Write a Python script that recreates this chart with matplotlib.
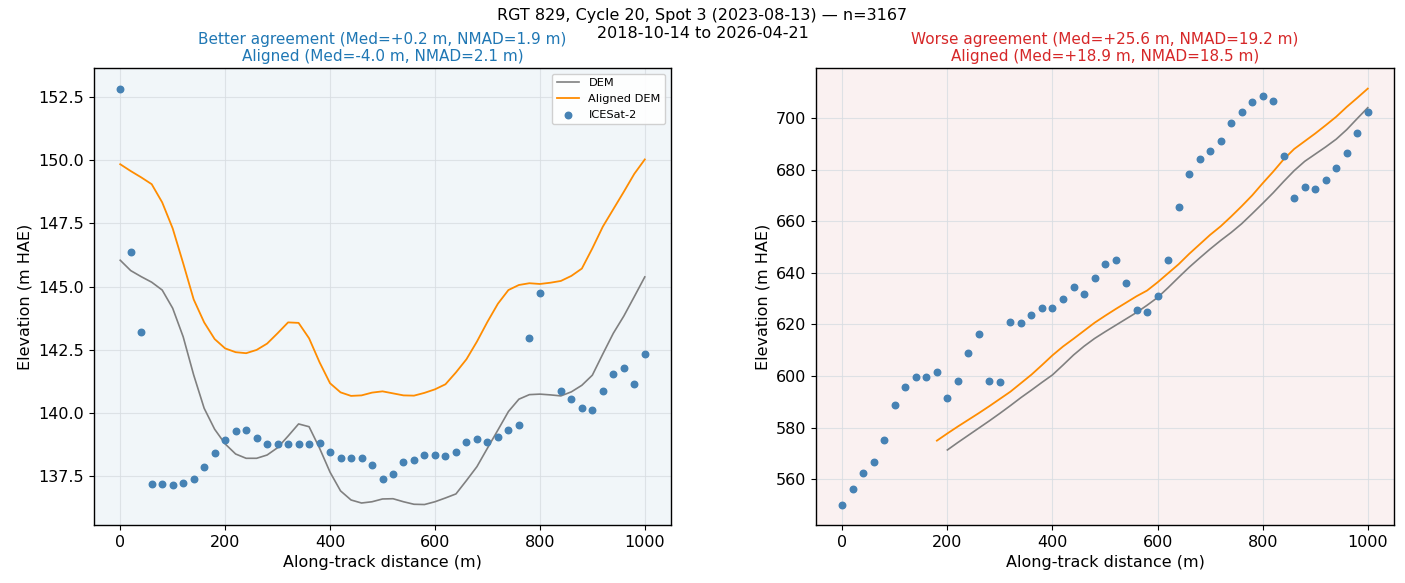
import matplotlib
matplotlib.use("Agg")
import matplotlib.pyplot as plt
import numpy as np

# left panel: better agreement
left_ice_x = [0, 20, 40, 60, 80, 100, 120, 140, 160, 180, 200, 220, 240, 260, 280, 300,
              320, 340, 360, 380, 400, 420, 440, 460, 480, 500, 520, 540, 560, 580, 600,
              620, 640, 660, 680, 700, 720, 740, 760, 780, 800, 840, 860, 880, 900, 920,
              940, 960, 980, 1000]
left_ice_y = [152.83, 146.38, 143.21, 137.19, 137.17, 137.15, 137.22, 137.40, 137.86, 138.39,
              138.94, 139.27, 139.31, 139.01, 138.77, 138.77, 138.77, 138.75, 138.78, 138.80,
              138.46, 138.20, 138.20, 138.20, 137.92, 137.38, 137.58, 138.07, 138.15, 138.32,
              138.33, 138.30, 138.46, 138.83, 138.97, 138.85, 139.03, 139.31, 139.50, 142.98,
              144.76, 140.85, 140.56, 140.18, 140.11, 140.85, 141.53, 141.79, 141.15, 142.32]

left_dem_x = list(range(0, 1001, 20))
left_dem_y = [146.04, 145.63, 145.39, 145.17, 144.86, 144.14, 143.01, 141.50, 140.18, 139.35,
              138.77, 138.37, 138.20, 138.20, 138.33, 138.62, 139.08, 139.56, 139.45, 138.60,
              137.65, 136.91, 136.55, 136.43, 136.48, 136.59, 136.60, 136.48, 136.38, 136.37,
              136.48, 136.63, 136.79, 137.32, 137.87, 138.60, 139.32, 140.05, 140.54, 140.72,
              140.74, 140.71, 140.67, 140.83, 141.09, 141.49, 142.33, 143.15, 143.83, 144.60,
              145.38]
left_aligned_y = [149.84, 149.57, 149.32, 149.05, 148.33, 147.30, 145.92, 144.49, 143.58, 142.92,
                  142.55, 142.40, 142.36, 142.49, 142.74, 143.15, 143.58, 143.56, 142.95, 142.00,
                  141.17, 140.81, 140.67, 140.69, 140.80, 140.85, 140.77, 140.69, 140.68, 140.79,
                  140.93, 141.13, 141.60, 142.12, 142.82, 143.60, 144.32, 144.86, 145.06, 145.13,
                  145.10, 145.15, 145.22, 145.42, 145.71, 146.51, 147.37, 148.06, 148.75, 149.46,
                  150.03]

# right panel: worse agreement
right_ice_x = list(range(0, 1001, 20))
right_ice_y = [549.9, 556.1, 562.2, 566.5, 575.3, 588.8, 595.8, 599.7, 599.7, 601.5,
               591.4, 597.9, 608.8, 616.3, 597.9, 597.7, 621.0, 620.4, 623.5, 626.2,
               626.3, 629.7, 634.5, 631.6, 637.8, 643.3, 645.1, 636.0, 625.4, 624.7,
               630.9, 645.1, 665.5, 678.4, 684.2, 687.2, 691.0, 697.9, 702.5, 706.2,
               708.4, 706.5, 685.1, 669.1, 673.1, 672.5, 675.8, 680.6, 686.6, 694.2,
               702.2]

right_dem_x = list(range(200, 1001, 20))
right_dem_y = [571.3, 574.2, 577.0, 579.8, 582.6, 585.5, 588.5, 591.6, 594.5, 597.5,
               600.4, 604.2, 608.1, 611.5, 614.5, 617.1, 619.6, 622.1, 624.6, 627.4,
               630.4, 634.2, 638.2, 642.1, 645.7, 649.2, 652.5, 655.6, 659.0, 662.9,
               666.9, 671.0, 675.4, 679.6, 683.2, 686.0, 688.8, 691.8, 695.5, 699.8,
               704.0]
right_aligned_x = list(range(180, 1001, 20))
right_aligned_y = [574.9, 577.7, 580.4, 583.0, 585.6, 588.3, 591.1, 593.9, 597.2, 600.5,
                   604.2, 608.0, 611.4, 614.4, 617.5, 620.6, 623.3, 625.9, 628.4, 630.9,
                   633.1, 636.3, 639.8, 643.3, 647.3, 651.0, 654.7, 658.0, 661.8, 665.8,
                   670.0, 674.7, 679.2, 684.0, 688.0, 691.0, 694.0, 697.2, 700.5, 704.3,
                   707.8, 711.4]

SUPTITLE = "RGT 829, Cycle 20, Spot 3 (2023-08-13) \u2014 n=3167\n2018-10-14 to 2026-04-21"
LEFT_TITLE = "Better agreement (Med=+0.2 m, NMAD=1.9 m)\nAligned (Med=-4.0 m, NMAD=2.1 m)"
RIGHT_TITLE = "Worse agreement (Med=+25.6 m, NMAD=19.2 m)\nAligned (Med=+18.9 m, NMAD=18.5 m)"

ICE_COLOR = "#4682b4"


def draw_panel(ax, dem_x, dem_y, al_x, al_y, ice_x, ice_y, title, title_color, bg):
    ax.set_facecolor(bg)
    ax.plot(dem_x, dem_y, color="gray", lw=1.2, label="DEM")
    ax.plot(al_x, al_y, color="darkorange", lw=1.3, label="Aligned DEM")
    ax.scatter(ice_x, ice_y, s=22, color=ICE_COLOR, zorder=3, label="ICESat-2")
    ax.set_title(title, color=title_color, fontsize=11, pad=5)
    ax.set_xlabel("Along-track distance (m)", fontsize=11.5)
    ax.set_ylabel("Elevation (m HAE)", fontsize=11.5)
    ax.grid(True, color="#d8dde2", lw=0.8, alpha=0.8)
    ax.tick_params(labelsize=11.5)
    ax.set_xlim(-50, 1050)
    for s in ax.spines.values():
        s.set_linewidth(1.0)


fig = plt.figure(figsize=(14.05, 5.83), dpi=100)
ax1 = fig.add_axes([0.0669, 0.0995, 0.4107, 0.7839])
ax2 = fig.add_axes([0.5808, 0.0995, 0.4114, 0.7839])

draw_panel(ax1, left_dem_x, left_dem_y, left_dem_x, left_aligned_y, left_ice_x, left_ice_y,
           LEFT_TITLE, "#1f77b4", "#f1f6f9")
ax1.set_ylim(135.56, 153.65)
ax1.set_yticks(np.arange(137.5, 153, 2.5))
ax1.legend(loc="upper right", fontsize=8.2, framealpha=0.9)

draw_panel(ax2, right_dem_x, right_dem_y, right_aligned_x, right_aligned_y, right_ice_x, right_ice_y,
           RIGHT_TITLE, "#d62728", "#faf1f1")
ax2.set_ylim(542.2, 719.4)
ax2.set_yticks(np.arange(560, 701, 20))

fig.suptitle(SUPTITLE, fontsize=11.5, y=0.986)

fig.savefig("out.png", dpi=100)
